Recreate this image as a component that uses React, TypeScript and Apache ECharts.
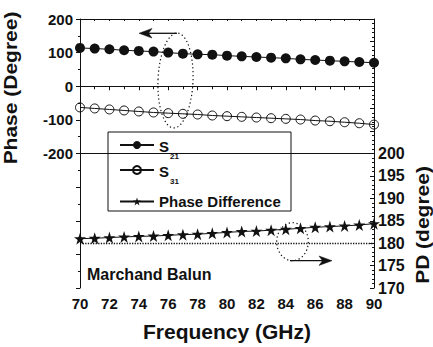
import React, { useEffect, useRef } from "react";
import * as echarts from "echarts";

const frequency = [70, 71, 72, 73, 74, 75, 76, 77, 78, 79, 80, 81, 82, 83, 84, 85, 86, 87, 88, 89, 90];
const s21 = [114, 112, 110, 107, 105, 103, 100, 97, 95, 94, 91, 89, 87, 85, 83, 80, 78, 76, 74, 72, 70];
const s31 = [-63, -66, -69, -72, -75, -78, -80, -82, -84, -87, -89, -91, -93, -95, -97, -99, -102, -104, -107, -110, -114];
const phaseDiff = [181.0, 181.1, 181.25, 181.4, 181.5, 181.6, 181.75, 181.9, 182.0, 182.2, 182.4, 182.6, 182.7, 182.9, 183.1, 183.3, 183.55, 183.7, 183.85, 184.05, 184.35];

const leftTickLabels = [-200, -100, 0, 100, 200];
const rightTickLabels = [170, 175, 180, 185, 190, 195, 200];
const seriesNames = ["S21", "S31", "Phase Difference"];
const separatorPhase = -200;
const referencePD = 180;

const FONT = "'Liberation Sans', Arial, Helvetica, sans-serif";
const INK = "#111";
const STAR =
  "path://M50 2 L61.8 38.2 L99.5 38.2 L69 60.5 L80.6 96.8 L50 74.4 L19.4 96.8 L31 60.5 L0.5 38.2 L38.2 38.2 Z";

const legendRich = {
  m: { fontSize: 15, fontWeight: "bold", fontFamily: FONT, color: INK, lineHeight: 18, padding: [3, 0, 0, 0], verticalAlign: "top" },
  sub: { fontSize: 8, fontWeight: "bold", fontFamily: FONT, color: INK, lineHeight: 8, padding: [16, 0, 0, 1], verticalAlign: "top" },
  p: { fontSize: 15, fontWeight: "bold", fontFamily: FONT, color: INK, lineHeight: 18 },
};

const legendFormatter = (name: string) => {
  if (name === "S21") return "{m|S}{sub|21}";
  if (name === "S31") return "{m|S}{sub|31}";
  return "{p|" + name + "}";
};

const legendBase = {
  orient: "vertical",
  left: 119,
  padding: 0,
  itemWidth: 34,
  itemHeight: 10,
  selectedMode: false,
  formatter: legendFormatter,
  textStyle: { rich: legendRich, fontFamily: FONT, color: INK },
  z: 6,
};

const tickLabelStyle = { fontSize: 15, fontWeight: "bold", fontFamily: FONT, color: INK };
const axisLineStyle = { color: INK, width: 1 };

export default function App() {
  const ref = useRef<HTMLDivElement>(null);

  useEffect(() => {
    document.body.style.margin = "0";
    const chart = echarts.init(ref.current!, null, { renderer: "svg" });
    const option: any = {
      animation: false,
      backgroundColor: "#fff",
      grid: { left: 80, right: 59, top: 19, bottom: 55 },
      xAxis: [
        {
          type: "value",
          position: "bottom",
          min: 70,
          max: 90,
          interval: 2,
          name: "Frequency (GHz)",
          nameLocation: "middle",
          nameGap: 33,
          nameTextStyle: { fontSize: 21, fontWeight: "bold", fontFamily: FONT, color: INK },
          axisLine: { show: true, lineStyle: axisLineStyle },
          axisTick: { show: true, inside: false, length: 4, lineStyle: axisLineStyle },
          minorTick: { show: true, splitNumber: 2, length: 3, lineStyle: axisLineStyle },
          axisLabel: { ...tickLabelStyle, margin: 8 },
          splitLine: { show: false },
        },
        {
          type: "value",
          position: "top",
          min: 70,
          max: 90,
          interval: 1,
          axisLine: { show: true, lineStyle: axisLineStyle },
          axisTick: { show: true, inside: true, length: 2, lineStyle: axisLineStyle },
          axisLabel: { show: false },
          splitLine: { show: false },
        },
      ],
      yAxis: [
        {
          type: "value",
          position: "left",
          min: -600,
          max: 200,
          interval: 100,
          axisLine: { show: true, lineStyle: axisLineStyle },
          axisTick: { show: true, inside: false, length: 4, lineStyle: axisLineStyle },
          minorTick: { show: true, splitNumber: 2, length: 2, lineStyle: axisLineStyle },
          axisLabel: {
            ...tickLabelStyle,
            margin: 7,
            formatter: (v: number) => (leftTickLabels.includes(v) ? String(v) : ""),
          },
          splitLine: { show: false },
        },
        {
          type: "value",
          position: "right",
          min: 170,
          max: 230,
          interval: 5,
          axisLine: { show: true, lineStyle: axisLineStyle },
          axisTick: { show: true, inside: true, length: 4, lineStyle: axisLineStyle },
          minorTick: { show: true, splitNumber: 5, length: 2, lineStyle: axisLineStyle },
          axisLabel: {
            ...tickLabelStyle,
            fontSize: 16,
            margin: 4,
            formatter: (v: number) => (rightTickLabels.includes(v) ? String(v) : ""),
          },
          splitLine: { show: false },
        },
      ],
      legend: [
        { ...legendBase, data: [seriesNames[0]], top: 136 },
        { ...legendBase, data: [seriesNames[1]], top: 161 },
        { ...legendBase, data: [seriesNames[2]], top: 194 },
      ],
      series: [
        {
          name: seriesNames[0],
          type: "line",
          xAxisIndex: 0,
          yAxisIndex: 0,
          data: frequency.map((f, i) => [f, s21[i]]),
          symbol: "circle",
          symbolSize: 10,
          itemStyle: { color: INK },
          lineStyle: { color: INK, width: 1 },
          markLine: {
            silent: true,
            symbol: "none",
            label: { show: false },
            lineStyle: { color: INK, type: "solid", width: 1 },
            data: [{ yAxis: separatorPhase }],
          },
        },
        {
          name: seriesNames[1],
          type: "line",
          xAxisIndex: 0,
          yAxisIndex: 0,
          data: frequency.map((f, i) => [f, s31[i]]),
          symbol: "circle",
          symbolSize: 9,
          itemStyle: { color: "rgba(255,255,255,0)", borderColor: INK, borderWidth: 1 },
          lineStyle: { color: INK, width: 1 },
        },
        {
          name: seriesNames[2],
          type: "line",
          xAxisIndex: 0,
          yAxisIndex: 1,
          data: frequency.map((f, i) => [f, phaseDiff[i]]),
          symbol: STAR,
          symbolSize: 12,
          itemStyle: { color: INK },
          lineStyle: { color: INK, width: 1 },
          markLine: {
            silent: true,
            symbol: "none",
            label: { show: false },
            lineStyle: { color: INK, type: "dotted", width: 1.3 },
            data: [{ yAxis: referencePD }],
          },
        },
      ],
      graphic: [
        {
          type: "rect",
          z: 4,
          shape: { x: 108, y: 132, width: 183, height: 79 },
          style: { fill: "#fff", stroke: INK, lineWidth: 1 },
        },
        {
          type: "text",
          x: 10.5,
          y: 88,
          rotation: Math.PI / 2,
          scaleY: 0.85,
          style: {
            text: "Phase (Degree)",
            fontSize: 21,
            fontWeight: "bold",
            fontFamily: FONT,
            fill: INK,
            align: "center",
            verticalAlign: "middle",
          },
        },
        {
          type: "text",
          x: 422.5,
          y: 225,
          rotation: Math.PI / 2,
          scaleY: 0.85,
          style: {
            text: "PD (degree)",
            fontSize: 21,
            fontWeight: "bold",
            fontFamily: FONT,
            fill: INK,
            align: "center",
            verticalAlign: "middle",
          },
        },
        {
          type: "text",
          x: 87,
          y: 274.5,
          style: {
            text: "Marchand Balun",
            fontSize: 16,
            fontWeight: "bold",
            fontFamily: FONT,
            fill: INK,
            align: "left",
            verticalAlign: "middle",
          },
        },
        {
          type: "ellipse",
          x: 175.5,
          y: 80.5,
          rotation: -0.04,
          shape: { cx: 0, cy: 0, rx: 17.5, ry: 47.5 },
          style: { fill: "none", stroke: INK, lineWidth: 1.2, lineDash: [1.3, 2.6] },
        },
        {
          type: "line",
          shape: { x1: 177, y1: 33.3, x2: 146, y2: 33.3 },
          style: { stroke: INK, lineWidth: 1.3 },
        },
        {
          type: "polygon",
          shape: { points: [[139, 33.3], [152, 28.5], [148.5, 33.3], [152, 38]] },
          style: { fill: INK, stroke: INK, lineWidth: 0.5 },
        },
        {
          type: "ellipse",
          x: 292.5,
          y: 241.7,
          shape: { cx: 0, cy: 0, rx: 15.8, ry: 19 },
          style: { fill: "none", stroke: INK, lineWidth: 1.2, lineDash: [1.3, 2.6] },
        },
        {
          type: "line",
          shape: { x1: 290, y1: 260.7, x2: 325, y2: 260.7 },
          style: { stroke: INK, lineWidth: 1.3 },
        },
        {
          type: "polygon",
          shape: { points: [[332, 260.7], [319, 256], [322.5, 260.7], [319, 265.4]] },
          style: { fill: INK, stroke: INK, lineWidth: 0.5 },
        },
      ],
    };
    chart.setOption(option);
    return () => chart.dispose();
  }, []);

  return (
    <div
      ref={ref}
      style={{ position: "absolute", left: 0, top: 0, width: 433, height: 347, background: "#fff" }}
    />
  );
}
